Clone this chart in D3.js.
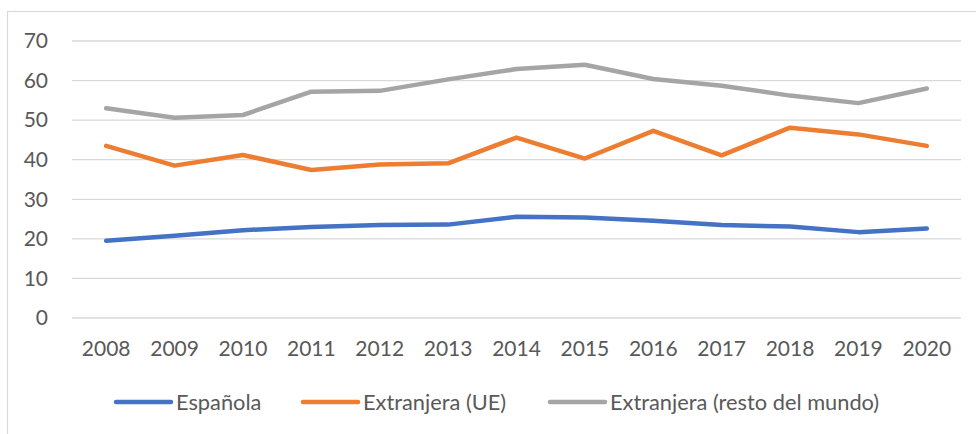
<!DOCTYPE html>
<html>
<head>
<meta charset="utf-8">
<script src="https://cdn.jsdelivr.net/npm/d3@7"></script>
<style>
  body { margin: 0; background: #fff; }
  text { font-family: Lato, 'Open Sans', sans-serif; fill: #595959; }
</style>
</head>
<body>
<script>
const years = ['2008', '2009', '2010', '2011', '2012', '2013', '2014', '2015', '2016', '2017', '2018', '2019', '2020'];
const espanola = [19.5, 20.8, 22.2, 23.0, 23.5, 23.6, 25.6, 25.4, 24.6, 23.5, 23.1, 21.7, 22.6];
const extranjeraUE = [43.5, 38.5, 41.2, 37.4, 38.8, 39.1, 45.6, 40.3, 47.3, 41.1, 48.1, 46.4, 43.5];
const extranjeraResto = [53.0, 50.6, 51.3, 57.2, 57.4, 60.3, 62.9, 64.0, 60.4, 58.7, 56.2, 54.3, 58.0];
const seriesNames = ['Española', 'Extranjera (UE)', 'Extranjera (resto del mundo)'];
const yTicks = [0, 10, 20, 30, 40, 50, 60, 70];

const colors = ['#4472C4', '#ED7D31', '#A5A5A5'];
const series = [espanola, extranjeraUE, extranjeraResto];

const width = 976;
const height = 434;
const margin = { top: 41, right: 15, bottom: 116, left: 72 };

const svg = d3.select('body')
  .append('svg')
  .attr('width', width)
  .attr('height', height);

// chart frame
svg.append('rect')
  .attr('x', 7.5)
  .attr('y', 11.5)
  .attr('width', width + 20)
  .attr('height', height + 20)
  .attr('fill', 'none')
  .attr('stroke', '#D9D9D9')
  .attr('stroke-width', 1.2);

const x = d3.scaleBand()
  .domain(years)
  .range([margin.left, width - margin.right]);

const y = d3.scaleLinear()
  .domain([0, 70])
  .range([height - margin.bottom, margin.top]);

// gridlines
svg.append('g')
  .selectAll('line')
  .data(yTicks)
  .join('line')
  .attr('x1', margin.left)
  .attr('x2', width - margin.right)
  .attr('y1', d => y(d))
  .attr('y2', d => y(d))
  .attr('stroke', '#D9D9D9')
  .attr('stroke-width', 1.3);

// y axis
const ejeY = d3.axisLeft(y).tickValues(yTicks).tickSize(0).tickPadding(24);
svg.append('g')
  .attr('transform', `translate(${margin.left}, 0)`)
  .call(ejeY)
  .call(g => g.select('.domain').remove())
  .selectAll('text')
  .attr('font-size', 21)
  .attr('fill', '#595959')
  .style('font-family', 'Lato, sans-serif');

// x axis
const ejeX = d3.axisBottom(x).tickSize(0).tickPadding(23);
svg.append('g')
  .attr('transform', `translate(0, ${y(0)})`)
  .call(ejeX)
  .call(g => g.select('.domain').remove())
  .selectAll('text')
  .attr('font-size', 21)
  .attr('fill', '#595959')
  .style('font-family', 'Lato, sans-serif');

// lines
const linea = d3.line()
  .x((d, i) => x(years[i]) + x.bandwidth() / 2)
  .y(d => y(d));

svg.append('g')
  .selectAll('path')
  .data(series)
  .join('path')
  .attr('d', d => linea(d))
  .attr('fill', 'none')
  .attr('stroke', (d, i) => colors[i])
  .attr('stroke-width', 4.5)
  .attr('stroke-linecap', 'round')
  .attr('stroke-linejoin', 'round');

// legend
const legendX = [116, 303, 550];
const legend = svg.append('g')
  .selectAll('g')
  .data(seriesNames)
  .join('g')
  .attr('transform', (d, i) => `translate(${legendX[i]}, 402)`);

legend.append('line')
  .attr('x1', 0)
  .attr('x2', 55)
  .attr('stroke', (d, i) => colors[i])
  .attr('stroke-width', 4.5)
  .attr('stroke-linecap', 'round');

legend.append('text')
  .attr('x', 60)
  .attr('y', 8)
  .attr('font-size', 21.8)
  .text(d => d);
</script>
</body>
</html>
